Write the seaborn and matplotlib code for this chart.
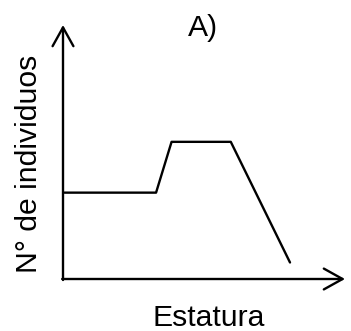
import matplotlib
matplotlib.use("Agg")
import matplotlib.pyplot as plt
import seaborn as sns
import pandas as pd

# Schematic height distribution (arbitrary units)
estatura = [0.05, 3.3, 3.85, 5.95, 8.05]
individuos = [3.4, 3.4, 5.4, 5.4, 0.65]

titulo = "A)"
etiqueta_x = "Estatura"
etiqueta_y = "N° de individuos"

sns.set_style("white")
plt.rcParams["font.family"] = ["Liberation Sans", "DejaVu Sans"]
plt.rcParams["text.color"] = "black"

W, H = 351, 331
fig = plt.figure(figsize=(W / 100, H / 100), dpi=100)
ax = fig.add_axes([63 / W, (H - 279) / H, (345 - 63) / W, (279 - 25) / H])

df = pd.DataFrame({"estatura": estatura, "individuos": individuos})
sns.lineplot(data=df, x="estatura", y="individuos", sort=False,
             color="black", linewidth=1.7, ax=ax)

ax.set_xlim(0, 10)
ax.set_ylim(0, 10)
for s in ax.spines.values():
    s.set_visible(False)
ax.set_xticks([])
ax.set_yticks([])
ax.set_xlabel("")
ax.set_ylabel("")

# Arrowed axes
arrow = dict(arrowstyle="->,head_length=0.45,head_width=0.25", color="black",
             linewidth=1.7, shrinkA=0, shrinkB=0, mutation_scale=30)
ax.annotate("", xy=(0, 1), xytext=(0, -0.004), xycoords="axes fraction",
            arrowprops=arrow, annotation_clip=False)
ax.annotate("", xy=(1, 0), xytext=(-0.003, 0), xycoords="axes fraction",
            arrowprops=arrow, annotation_clip=False)

fs = 21.7
fig.text(203.5 / W, (H - 35.7) / H, titulo, fontsize=fs, color="black",
         ha="center", va="baseline")
fig.text(208.5 / W, (H - 326.5) / H, etiqueta_x, fontsize=fs, color="black",
         ha="center", va="baseline")
fig.text(37 / W, (H - 163.5) / H, etiqueta_y, fontsize=fs, color="black",
         ha="center", va="baseline", rotation=90, rotation_mode="anchor")

fig.savefig("out.png", dpi=100)
